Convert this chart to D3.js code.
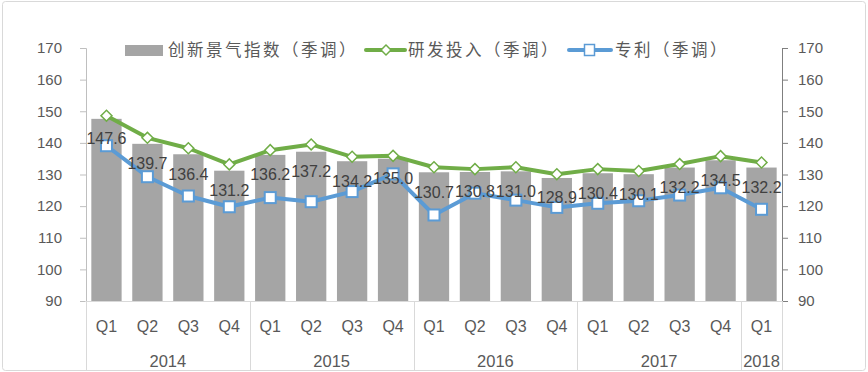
<!DOCTYPE html>
<html><head><meta charset="utf-8">
<script src="https://cdn.jsdelivr.net/npm/d3@7"></script>
<style>html,body{margin:0;padding:0;background:#fff;}svg{display:block;}</style>
</head><body>
<svg id="chart" width="868" height="372"></svg>
<script>
const quarters = ["Q1","Q2","Q3","Q4","Q1","Q2","Q3","Q4","Q1","Q2","Q3","Q4","Q1","Q2","Q3","Q4","Q1"];
const years = ["2014","2015","2016","2017","2018"];
const yearSpans = [4,4,4,4,1];
const indexValues = [147.6,139.7,136.4,131.2,136.2,137.2,134.2,135.0,130.7,130.8,131.0,128.9,130.4,130.1,132.2,134.5,132.2];
const rdValues = [148.6,141.6,138.3,133.2,137.7,139.5,135.6,135.9,132.3,131.7,132.3,130.1,131.7,131.1,133.3,135.8,133.8];
const patentValues = [139.1,129.3,123.2,119.8,122.7,121.4,124.6,130.2,117.2,124.1,121.9,119.6,120.9,121.7,123.5,125.8,119.0];
const yTicks = [90,100,110,120,130,140,150,160,170];
const seriesNames = ["创新景气指数（季调）","研发投入（季调）","专利（季调）"];

(function(){
const svg = d3.select("#chart");
const W = 868, H = 372;
const pL = 86, pR = 782, pT = 48, pB = 301;
const cats = quarters.map((q,i)=>i);
const x = d3.scaleBand().domain(cats).range([pL,pR]).paddingInner(0.26).paddingOuter(0.13);
const xs = d3.scaleBand().domain(cats).range([pL,pR]);
const y = d3.scaleLinear().domain([90,170]).range([pB,pT]);
const GRAY = "#A5A5A5", GREEN = "#70AD47", BLUE = "#5B9BD5";
const fontNum = "'Liberation Sans', Arial, sans-serif";
const fontCJK = "'Noto Sans CJK SC', sans-serif";

svg.append("rect").attr("x",2.5).attr("y",1.5).attr("width",W-5).attr("height",H-3)
  .attr("rx",3).attr("fill","#fff").attr("stroke","#d9d9d9").attr("stroke-width",1);

const yl = d3.axisLeft(y).tickValues(yTicks).tickSize(6).tickPadding(18);
const gl = svg.append("g").attr("transform",`translate(${pL},0)`).call(yl);
gl.select(".domain").attr("stroke","#bfbfbf");
gl.selectAll(".tick line").attr("stroke","#bfbfbf");
gl.selectAll("text").attr("font-family",fontNum).attr("font-size","15px").attr("fill","#595959");

const yr = d3.axisRight(y).tickValues(yTicks).tickSize(6).tickPadding(10);
const gr = svg.append("g").attr("transform",`translate(${pR},0)`).call(yr);
gr.select(".domain").attr("stroke","#7f7f7f");
gr.selectAll(".tick line").attr("stroke","#7f7f7f");
gr.selectAll("text").attr("font-family",fontNum).attr("font-size","15px").attr("fill","#595959");

svg.append("line").attr("x1",pL-1).attr("x2",pR).attr("y1",pB+0.5).attr("y2",pB+0.5)
  .attr("stroke","#d9d9d9");

let acc = 0;
const bounds = [0];
yearSpans.forEach(s=>{acc+=s;bounds.push(acc);});
svg.selectAll(".div").data(bounds).join("line")
  .attr("x1",d=>Math.round(xs.step()*d+pL)+0.5).attr("x2",d=>Math.round(xs.step()*d+pL)+0.5)
  .attr("y1",pB).attr("y2",H-2).attr("stroke","#d9d9d9");

svg.selectAll(".q").data(quarters).join("text")
  .attr("x",(d,i)=>xs(i)+xs.bandwidth()/2).attr("y",332)
  .attr("text-anchor","middle").attr("font-family",fontNum).attr("font-size","16px").attr("fill","#595959")
  .text(d=>d);
svg.selectAll(".yr").data(years).join("text")
  .attr("x",(d,i)=>pL+xs.step()*(bounds[i]+bounds[i+1])/2).attr("y",367)
  .attr("text-anchor","middle").attr("font-family",fontNum).attr("font-size","16.5px").attr("fill","#595959")
  .text(d=>d);

svg.selectAll(".bar").data(indexValues).join("rect")
  .attr("x",(d,i)=>x(i)).attr("width",x.bandwidth())
  .attr("y",d=>y(d)).attr("height",d=>pB-y(d)).attr("fill",GRAY);

const cx = i => x(i)+x.bandwidth()/2;
const line = d3.line().x((d,i)=>cx(i)).y(d=>y(d));

svg.append("path").datum(rdValues).attr("d",line).attr("fill","none")
  .attr("stroke",GREEN).attr("stroke-width",4).attr("stroke-linejoin","round").attr("stroke-linecap","round");
svg.selectAll(".dm").data(rdValues).join("path")
  .attr("d",d3.symbol(d3.symbolSquare,60)())
  .attr("transform",(d,i)=>`translate(${cx(i)},${y(d)}) rotate(45)`)
  .attr("fill","#fff").attr("stroke",GREEN).attr("stroke-width",1.5);

svg.append("path").datum(patentValues).attr("d",line).attr("fill","none")
  .attr("stroke",BLUE).attr("stroke-width",4).attr("stroke-linejoin","round").attr("stroke-linecap","round");
svg.selectAll(".sq").data(patentValues).join("rect")
  .attr("x",(d,i)=>cx(i)-5.5).attr("y",d=>y(d)-5.5).attr("width",11).attr("height",11)
  .attr("fill","#fff").attr("stroke",BLUE).attr("stroke-width",2);

svg.selectAll(".lbl").data(indexValues).join("text")
  .attr("x",(d,i)=>cx(i)).attr("y",d=>y(d)+25.5)
  .attr("text-anchor","middle").attr("font-family",fontNum).attr("font-size","16px").attr("fill","#404040")
  .text(d=>d.toFixed(1));

const ly = 50;
const lg = svg.append("g");
lg.append("rect").attr("x",125).attr("y",ly-5).attr("width",38).attr("height",11).attr("fill",GRAY);
lg.append("text").attr("x",168).attr("y",ly+6).attr("font-family",fontCJK).attr("font-size","16.5px")
  .attr("letter-spacing","2.5px").attr("fill","#595959").text(seriesNames[0]);
lg.append("line").attr("x1",366).attr("x2",405).attr("y1",ly).attr("y2",ly).attr("stroke",GREEN).attr("stroke-width",4).attr("stroke-linecap","round");
lg.append("path").attr("d",d3.symbol(d3.symbolSquare,50)()).attr("transform",`translate(386,${ly}) rotate(45)`)
  .attr("fill","#fff").attr("stroke",GREEN).attr("stroke-width",1.5);
lg.append("text").attr("x",408).attr("y",ly+6).attr("font-family",fontCJK).attr("font-size","16.5px")
  .attr("letter-spacing","2.5px").attr("fill","#595959").text(seriesNames[1]);
lg.append("line").attr("x1",569).attr("x2",611).attr("y1",ly).attr("y2",ly).attr("stroke",BLUE).attr("stroke-width",4).attr("stroke-linecap","round");
lg.append("rect").attr("x",584.5).attr("y",ly-5.5).attr("width",10).attr("height",11)
  .attr("fill","#fff").attr("stroke",BLUE).attr("stroke-width",1.5);
lg.append("text").attr("x",615).attr("y",ly+6).attr("font-family",fontCJK).attr("font-size","16.5px")
  .attr("letter-spacing","2.5px").attr("fill","#595959").text(seriesNames[2]);
})();
</script>
</body></html>
